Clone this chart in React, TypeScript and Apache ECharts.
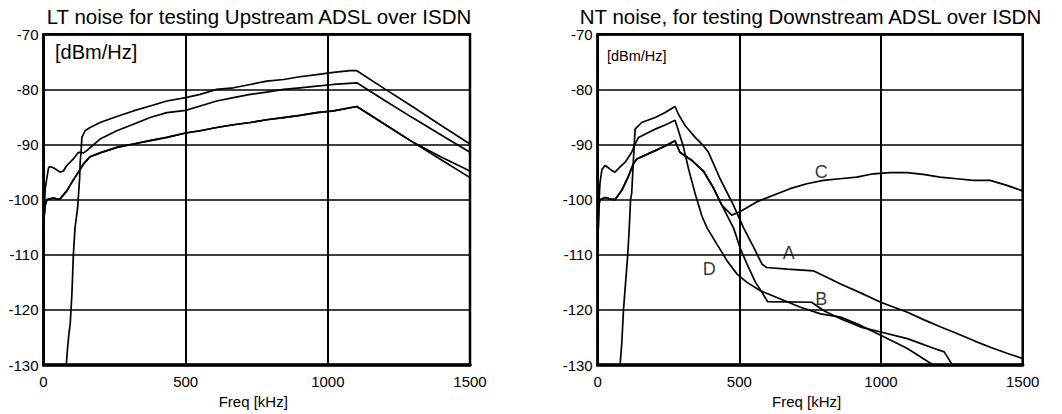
import React, { useEffect, useRef } from "react";
import * as echarts from "echarts";

// ---------- data (kHz, dBm/Hz) ----------
const xTicks = [0, 500, 1000, 1500];
const yTicks = [-130, -120, -110, -100, -90, -80, -70];

// Left chart: LT noise (upstream)
const ltA: number[][] = [
  [80, -130], [84, -127.3], [90, -124], [94, -122.5], [100, -117], [105, -110], [111, -105],
  [120, -101.5], [123, -99.2], [127, -96.2], [129, -93.2], [132, -91.4], [135, -88.7],
  [146, -87.5], [164, -86.9], [199, -86], [258, -84.9], [316, -83.9], [375, -83], [434, -82.1],
  [500, -81.5], [551, -80.9], [609, -80], [668, -79.7], [727, -79.1], [785, -78.5], [844, -78.2],
  [902, -77.7], [961, -77.3], [1020, -76.9], [1078, -76.6], [1102, -76.6], [1200, -79.9],
  [1300, -83.2], [1400, -86.6], [1500, -89.9],
];
const ltD: number[][] = [
  [0, -108], [3, -102], [6, -98], [12, -96], [18, -94.2], [23, -94], [35, -94.2], [47, -94.6],
  [58, -95], [70, -94.8], [82, -93.8], [105, -92.6], [123, -91.4], [141, -91.5], [152, -91.1],
  [199, -89], [258, -87.5], [316, -86.3], [375, -85.1], [434, -84.2], [500, -83.8], [551, -83],
  [609, -82.1], [668, -81.5], [727, -80.9], [785, -80.5], [844, -80], [902, -79.7], [961, -79.4],
  [1020, -79.1], [1102, -78.8], [1200, -82.0], [1300, -85.2], [1400, -88.3], [1500, -91.4],
];
const ltB: number[][] = [
  [0, -107], [2, -103], [6, -101], [12, -100], [18, -99.9], [35, -99.7], [50, -99.9], [59, -99.8],
  [82, -98.4], [105, -96.4], [129, -94.5], [141, -93.5], [164, -92.2], [199, -91.5], [258, -90.5],
  [316, -89.9], [375, -89.3], [434, -88.7], [500, -87.9], [551, -87.5], [609, -86.9], [668, -86.4],
  [727, -86], [785, -85.5], [844, -85.1], [902, -84.7], [961, -84.2], [1020, -83.9], [1102, -83.1],
  [1200, -86.3], [1300, -89.6], [1400, -92.3], [1500, -94.8],
];
const ltC: number[][] = [
  [0, -107], [2, -103], [6, -101], [12, -100], [18, -99.9], [35, -99.7], [50, -99.9], [59, -99.8],
  [82, -98.4], [105, -96.4], [129, -94.5], [141, -93.5], [164, -92.2], [199, -91.5], [258, -90.5],
  [316, -89.9], [375, -89.3], [434, -88.7], [500, -87.9], [551, -87.5], [609, -86.9], [668, -86.4],
  [727, -86], [785, -85.5], [844, -85.1], [902, -84.7], [961, -84.2], [1020, -83.9], [1102, -83.1],
  [1200, -86.3], [1300, -89.6], [1400, -92.8], [1500, -96.0],
];

// Right chart: NT noise (downstream)
const ntA: number[][] = [
  [79, -130], [85, -126], [91, -120], [100, -114], [106, -110], [112, -104.5], [116, -100],
  [120, -98.8], [126, -92.9], [132, -87.2], [155, -86], [203, -85.1], [238, -84.2], [273, -83.1],
  [285, -84.5], [309, -86.6], [344, -88.7], [373, -90.2], [391, -91.4], [432, -96.2], [479, -101],
  [515, -105.1], [551, -108.7], [580, -111.7], [596, -112.3], [669, -112.6], [761, -112.9],
  [834, -114.7], [857, -115.3], [928, -116.9], [999, -118.6], [1046, -119.5], [1093, -120.4],
  [1152, -121.8], [1211, -123.1], [1270, -124.3], [1329, -125.6], [1388, -126.8], [1447, -127.9],
  [1500, -128.8],
];
const ntD: number[][] = [
  [0, -110], [3, -102], [8, -97], [15, -94.5], [26, -93.8], [40, -94.3], [49, -94.7], [61, -95],
  [80, -94], [97, -93.2], [120, -91.4], [132, -89.9], [144, -88.7], [203, -87.2], [240, -86.4],
  [273, -85.6], [285, -87.5], [303, -90.5], [321, -94.5], [344, -98.9], [368, -103], [386, -105.1],
  [421, -108.1], [457, -111.1], [492, -113.5], [527, -115], [574, -116.5], [645, -118], [716, -119.5],
  [787, -120.7], [857, -121.3], [928, -122.8], [999, -124.6], [1093, -127], [1176, -129.7],
  [1182, -130],
];
const ntB: number[][] = [
  [1, -107], [4, -101], [8, -100], [26, -99.6], [45, -99.9], [61, -100], [85, -98.3], [108, -95.8],
  [126, -93.5], [138, -92.6], [203, -91.1], [240, -90.2], [273, -89.3], [290, -91.4], [333, -92.9],
  [373, -94.8], [408, -97.8], [438, -101], [480, -105.2], [503, -108.8], [527, -111.7], [557, -115],
  [580, -116.8], [600, -118.5], [755, -118.6], [800, -120.2], [857, -121.6], [928, -123.1],
  [999, -124], [1093, -125.2], [1188, -127], [1223, -127.6], [1252, -130],
];
const ntC: number[][] = [
  [1, -107], [4, -101], [8, -100], [26, -99.6], [45, -99.9], [61, -100], [85, -98.3], [108, -95.8],
  [126, -93.5], [138, -92.6], [203, -91.1], [240, -90.2], [273, -89.3], [290, -91.4], [333, -92.9],
  [373, -94.8], [408, -97.8], [438, -101], [473, -102.8], [502, -102.2], [561, -100.4], [620, -99.2],
  [679, -98], [738, -97.1], [796, -96.5], [855, -96.2], [914, -95.9], [973, -95.3], [1032, -95.1],
  [1091, -95.1], [1149, -95.4], [1208, -95.9], [1267, -96.2], [1326, -96.5], [1385, -96.5],
  [1444, -97.4], [1500, -98.4],
];

// curve labels on right chart (data coordinates)
const curveLabels = [
  { name: "C", value: [789, -94.95] },
  { name: "A", value: [674, -109.6] },
  { name: "D", value: [394, -112.5] },
  { name: "B", value: [789, -118.0] },
];

const leftTitle = "LT noise for testing Upstream ADSL over ISDN";
const rightTitle = "NT noise, for testing Downstream ADSL over ISDN";
const unitText = "[dBm/Hz]";
const xName = "Freq [kHz]";

const FONT = "'Liberation Sans', Arial, Helvetica, sans-serif";

export default function App() {
  const ref = useRef<HTMLDivElement>(null);
  useEffect(() => {
    document.body.style.margin = "0";
    if (!ref.current) return;
    const chart = echarts.init(ref.current, undefined, { renderer: "svg" });

    const grids = [
      { left: 43.5, top: 34.3, width: 426.5, height: 334 },
      { left: 597.7, top: 34.3, width: 425, height: 334 },
    ];

    const mkX = (i: number) => ({
      type: "value",
      gridIndex: i,
      min: xTicks[0],
      max: xTicks[xTicks.length - 1],
      interval: 500,
      name: xName,
      nameLocation: "middle",
      nameGap: 27,
      nameTextStyle: { color: "#000", fontSize: 15, fontFamily: FONT, padding: [0, 7, 0, 0] },
      axisLine: { show: true, onZero: false, lineStyle: { color: "#000", width: 3.5 } },
      axisTick: { show: false },
      axisLabel: {
        color: "#000", fontSize: 15, fontFamily: FONT, margin: 9,
        showMinLabel: true, showMaxLabel: true,
        formatter: (v: number) => String(v),
      },
      splitLine: { show: true, lineStyle: { color: "#000", width: 2 } },
    });
    const mkY = (i: number) => ({
      type: "value",
      gridIndex: i,
      min: yTicks[0],
      max: yTicks[yTicks.length - 1],
      interval: 10,
      axisLine: { show: true, onZero: false, lineStyle: { color: "#000", width: 2.5 } },
      axisTick: { show: false },
      axisLabel: {
        color: "#000", fontSize: 15, fontFamily: FONT, margin: 5,
        padding: [5, 0, 0, 0], showMinLabel: true, showMaxLabel: true,
        formatter: (v: number) => String(v),
      },
      splitLine: { show: true, lineStyle: { color: "#000", width: 1.6 } },
    });

    const line = (data: number[][], i: number, name: string) => ({
      type: "line",
      name,
      xAxisIndex: i,
      yAxisIndex: i,
      data,
      showSymbol: false,
      symbol: "none",
      silent: true,
      clip: true,
      lineStyle: { color: "#000", width: 1.7 },
    });

    chart.setOption({
      animation: false,
      backgroundColor: "#fff",
      textStyle: { fontFamily: FONT },
      grid: grids.map((g) => ({ ...g, show: true, borderColor: "#000", borderWidth: 2.5, backgroundColor: "transparent" })),
      xAxis: [mkX(0), mkX(1)],
      yAxis: [mkY(0), mkY(1)],
      series: [
        line(ltA, 0, "LT A"),
        line(ltB, 0, "LT B"),
        line(ltC, 0, "LT C"),
        line(ltD, 0, "LT D"),
        line(ntA, 1, "A"),
        line(ntB, 1, "B"),
        line(ntC, 1, "C"),
        line(ntD, 1, "D"),
        {
          type: "scatter",
          xAxisIndex: 1,
          yAxisIndex: 1,
          symbolSize: 0,
          silent: true,
          data: curveLabels,
          label: {
            show: true,
            position: "inside",
            formatter: "{b}",
            color: "#000",
            fontSize: 18,
            fontFamily: FONT,
          },
        },
      ],
      graphic: [
        {
          type: "text",
          x: 259,
          y: 16.5,
          style: { text: leftTitle, fill: "#000", font: `20.5px ${FONT}`, align: "center", verticalAlign: "middle" },
        },
        {
          type: "text",
          x: 810.5,
          y: 16.5,
          style: { text: rightTitle, fill: "#000", font: `20.5px ${FONT}`, align: "center", verticalAlign: "middle" },
        },
        {
          type: "text",
          x: 55,
          y: 52,
          style: { text: unitText, fill: "#000", font: `20px ${FONT}`, align: "left", verticalAlign: "middle" },
        },
        {
          type: "text",
          x: 607,
          y: 56,
          style: { text: unitText, fill: "#000", font: `14.5px ${FONT}`, align: "left", verticalAlign: "middle" },
        },
      ],
    });
    return () => chart.dispose();
  }, []);
  return <div ref={ref} style={{ width: 1062, height: 414 }} />;
}
